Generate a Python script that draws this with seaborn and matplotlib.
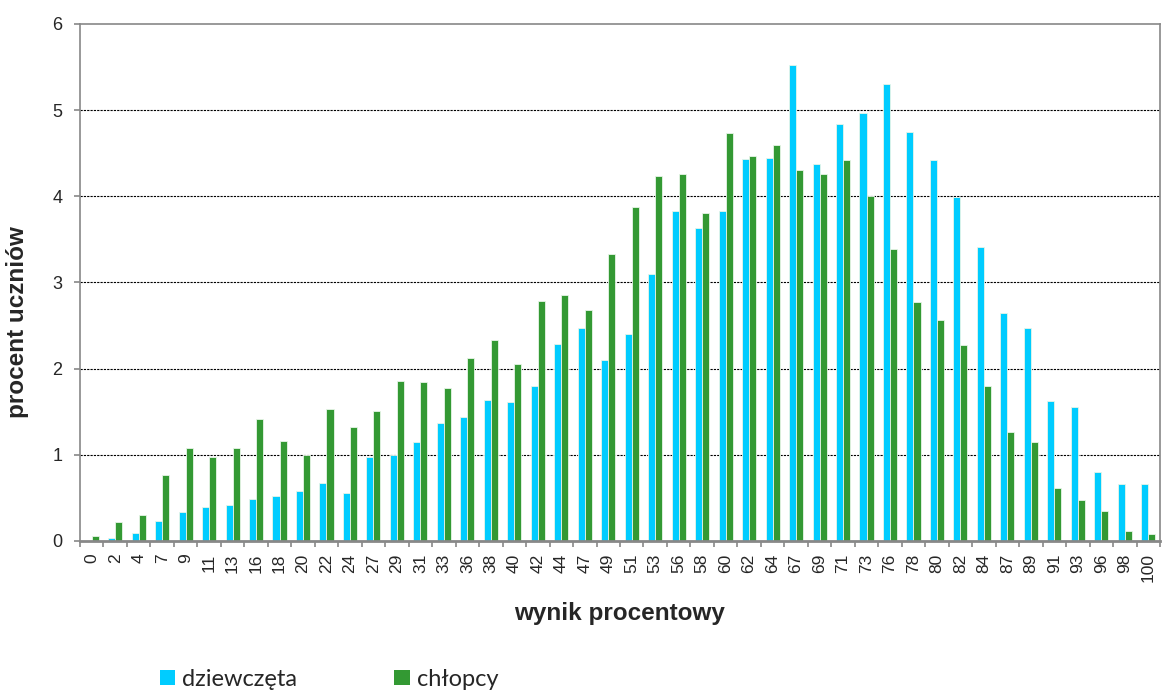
import numpy as np
import pandas as pd
import seaborn as sns
import matplotlib.pyplot as plt
from matplotlib.patches import Patch

wynik = ["0", "2", "4", "7", "9", "11", "13", "16", "18", "20", "22", "24", "27", "29", "31",
         "33", "36", "38", "40", "42", "44", "47", "49", "51", "53", "56", "58", "60", "62", "64",
         "67", "69", "71", "73", "76", "78", "80", "82", "84", "87", "89", "91", "93", "96", "98", "100"]

dziewczeta = [0.00, 0.03, 0.09, 0.23, 0.34, 0.40, 0.42, 0.49, 0.52, 0.58, 0.67, 0.56, 0.97, 1.00, 1.15,
              1.37, 1.44, 1.64, 1.61, 1.80, 2.29, 2.47, 2.10, 2.40, 3.10, 3.83, 3.63, 3.83, 4.43, 4.45,
              5.52, 4.38, 4.84, 4.97, 5.30, 4.75, 4.42, 3.99, 3.41, 2.64, 2.47, 1.63, 1.56, 0.80, 0.66, 0.66]

chlopcy = [0.06, 0.22, 0.30, 0.76, 1.08, 0.97, 1.08, 1.42, 1.16, 1.00, 1.53, 1.32, 1.51, 1.86, 1.85,
           1.77, 2.12, 2.33, 2.05, 2.79, 2.85, 2.68, 3.33, 3.87, 4.23, 4.26, 3.81, 4.74, 4.47, 4.59,
           4.31, 4.26, 4.42, 4.00, 3.39, 2.77, 2.57, 2.28, 1.80, 1.26, 1.15, 0.62, 0.47, 0.35, 0.11, 0.08]

serie = ["dziewczęta", "chłopcy"]
kolory = ["#00CCFF", "#339933"]

df = pd.DataFrame({
    "wynik": wynik * 2,
    "procent": dziewczeta + chlopcy,
    "plec": [serie[0]] * len(wynik) + [serie[1]] * len(wynik),
})

sns.set_style("white")
plt.rcParams["font.family"] = ["Liberation Sans", "DejaVu Sans"]

fig = plt.figure(figsize=(11.62, 6.94), dpi=100)
ax = fig.add_axes([0.0688, 0.2205, 0.9295, 0.7450])

sns.barplot(data=df, x="wynik", y="procent", hue="plec", order=wynik, hue_order=serie,
            palette=kolory, width=0.6, saturation=1, legend=False, ax=ax,
            edgecolor="#e8f5e8", linewidth=0.6)

ax.set_xlim(-0.5, len(wynik) - 0.5)
ax.set_ylim(0, 6)
ax.set_yticks(range(7))
for v in range(1, 6):
    ax.axhline(v, color="black", linestyle=(0, (2, 1)), linewidth=0.8, zorder=0)

ax.set_xticks(range(len(wynik)))
ax.set_xticklabels(wynik, rotation=90, fontsize=12.5)
ax.set_xticks(np.arange(-0.5, len(wynik), 1), minor=True)
ax.tick_params(axis="x", which="major", length=0, pad=9)
ax.tick_params(axis="x", which="minor", length=4.5, width=1.2, color="#888888", direction="out")
ax.tick_params(axis="y", which="major", length=4.5, width=1.2, color="#888888", direction="out",
               labelsize=13, pad=8)
ax.xaxis.set_ticks_position("bottom")
ax.yaxis.set_ticks_position("left")

for s in ["top", "right", "left"]:
    ax.spines[s].set_color("#888888")
    ax.spines[s].set_linewidth(1.2)
ax.spines["bottom"].set_color("#888888")
ax.spines["bottom"].set_linewidth(2)

ax.set_xlabel("wynik procentowy", fontsize=17.5, fontweight="bold", labelpad=14)
ax.set_ylabel("procent uczniów", fontsize=17.5, fontweight="bold")
ax.yaxis.set_label_coords(-0.047, 0.424)

handles = [Patch(facecolor=c, edgecolor="none") for c in kolory]
fig.legend(handles, serie, loc="lower left", bbox_to_anchor=(0.1377, 0.006), ncol=2,
           frameon=False, prop={"family": ["Lato", "DejaVu Sans"], "size": 17},
           handlelength=0.65, handleheight=0.65, handletextpad=0.3, columnspacing=4.1,
           borderpad=0, borderaxespad=0)

fig.savefig("out.png", dpi=100)
